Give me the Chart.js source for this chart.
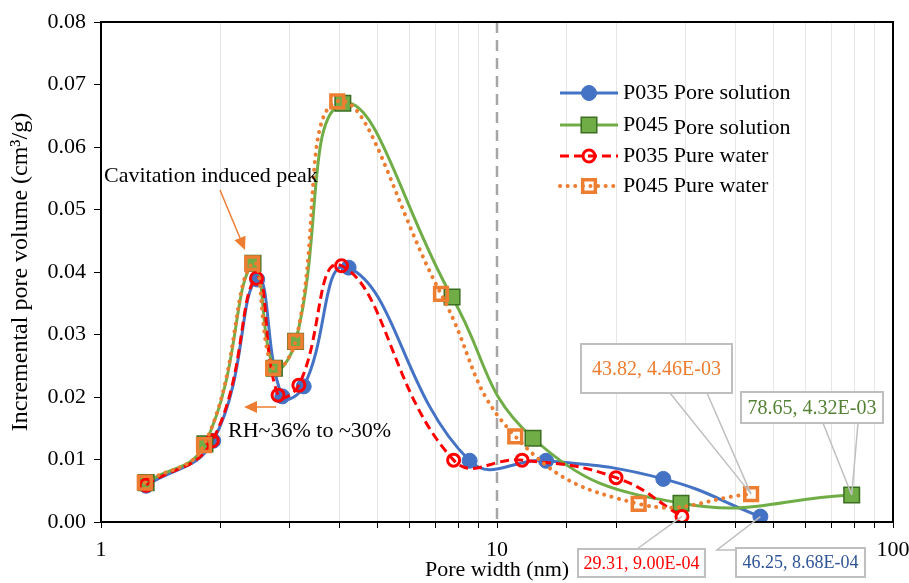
<!DOCTYPE html>
<html><head><meta charset="utf-8">
<script src="https://cdn.jsdelivr.net/npm/chart.js@4"></script>
<style>html,body{margin:0;padding:0;background:#fff;}canvas{display:block;}</style>
</head><body>
<canvas id="c" width="909" height="583"></canvas>
<script>
// ---- data (pore width in nm, incremental pore volume in cm3/g) ----
const seriesNames = ['P035 Pore solution', 'P045 Pore solution', 'P035 Pure water', 'P045 Pure water'];
const p035PoreSolX = [1.30, 1.92, 2.48, 2.87, 3.25, 4.22, 8.53, 13.3, 26.3, 46.25];
const p035PoreSolY = [0.0058, 0.0130, 0.0388, 0.0201, 0.0217, 0.0407, 0.0098, 0.0098, 0.0069, 0.000868];
const p045PoreSolX = [1.30, 1.83, 2.42, 2.74, 3.10, 4.08, 7.70, 12.33, 29.15, 78.65];
const p045PoreSolY = [0.0063, 0.0125, 0.0414, 0.0246, 0.0289, 0.0670, 0.0360, 0.0134, 0.0030, 0.00432];
const p035PureWaterX = [1.30, 1.91, 2.47, 2.80, 3.16, 4.05, 7.77, 11.57, 19.98, 29.31];
const p035PureWaterY = [0.0059, 0.0130, 0.0390, 0.0203, 0.0219, 0.0410, 0.0099, 0.0099, 0.0071, 0.0009];
const p045PureWaterX = [1.29, 1.82, 2.41, 2.72, 3.10, 3.95, 7.22, 11.12, 22.79, 43.82];
const p045PureWaterY = [0.0063, 0.0123, 0.0414, 0.0246, 0.0289, 0.0673, 0.0365, 0.0137, 0.0029, 0.00446];
const xTickLabels = [1, 10, 100];
const yMin = 0, yMax = 0.08, yStep = 0.01;
const refLineX = 10;
const calloutLabels = [
  {series: 3, index: 9, text: '43.82, 4.46E-03'},
  {series: 1, index: 9, text: '78.65, 4.32E-03'},
  {series: 2, index: 9, text: '29.31, 9.00E-04'},
  {series: 0, index: 9, text: '46.25, 8.68E-04'}
];
const noteCavitation = 'Cavitation induced peak';
const noteRH = 'RH~36% to ~30%';
const xTitle = 'Pore width (nm)';
const yTitle = 'Incremental pore volume (cm\u00B3/g)';

// ---- styles ----
const FONT = '"Liberation Serif", "Times New Roman", serif';
const BLUE = '#4472C4', GREEN = '#70AD47', RED = '#FF0000', ORANGE = '#ED7D31';
const styles = [
  {color: BLUE, lw: 3, dash: [], cap: 'butt', pstyle: 'circle', pr: 7.5, pfill: BLUE, pborder: BLUE, pbw: 1, order: 4},
  {color: GREEN, lw: 3, dash: [], cap: 'butt', pstyle: 'rect', pr: 11, pfill: GREEN, pborder: '#3B6E22', pbw: 1.5, order: 3},
  {color: RED, lw: 3, dash: [9, 5], cap: 'butt', pstyle: 'circle', pr: 6, pfill: 'rgba(0,0,0,0)', pborder: RED, pbw: 3, order: 2},
  {color: ORANGE, lw: 4, dash: [0.1, 7.5], cap: 'round', pstyle: 'rect', pr: 9, pfill: 'rgba(0,0,0,0)', pborder: ORANGE, pbw: 3.5, order: 1}
];
const xs = [p035PoreSolX, p045PoreSolX, p035PureWaterX, p045PureWaterX];
const ys = [p035PoreSolY, p045PoreSolY, p035PureWaterY, p045PureWaterY];

function pts(a, b) { return a.map((x, i) => ({x: x, y: b[i]})); }

const datasets = seriesNames.map((n, i) => ({
  label: n,
  data: pts(xs[i], ys[i]),
  showLine: true,
  borderColor: styles[i].color,
  borderWidth: styles[i].lw,
  borderDash: styles[i].dash,
  borderCapStyle: styles[i].cap,
  tension: 0.45,
  fill: false,
  pointStyle: styles[i].pstyle,
  pointRadius: styles[i].pr,
  pointHoverRadius: styles[i].pr,
  pointBackgroundColor: styles[i].pfill,
  pointBorderColor: styles[i].pborder,
  pointBorderWidth: styles[i].pbw,
  order: styles[i].order
}));

function drawMarker(ctx, i, x, y) {
  const s = styles[i];
  ctx.save();
  ctx.setLineDash([]);
  ctx.lineWidth = s.pbw;
  ctx.strokeStyle = s.pborder;
  ctx.fillStyle = s.pfill;
  ctx.beginPath();
  if (s.pstyle === 'circle') {
    ctx.arc(x, y, s.pr, 0, Math.PI * 2);
  } else {
    const h = s.pr * Math.SQRT1_2;
    ctx.rect(x - h, y - h, 2 * h, 2 * h);
  }
  ctx.fill();
  ctx.stroke();
  ctx.restore();
}

function arrow(ctx, x1, y1, x2, y2, color) {
  const ang = Math.atan2(y2 - y1, x2 - x1);
  const L = 13, W = 6;
  const bx = x2 - L * Math.cos(ang), by = y2 - L * Math.sin(ang);
  ctx.save();
  ctx.strokeStyle = color; ctx.fillStyle = color; ctx.lineWidth = 1.5;
  ctx.beginPath(); ctx.moveTo(x1, y1); ctx.lineTo(bx, by); ctx.stroke();
  ctx.beginPath();
  ctx.moveTo(x2, y2);
  ctx.lineTo(bx + W * Math.sin(ang), by - W * Math.cos(ang));
  ctx.lineTo(bx - W * Math.sin(ang), by + W * Math.cos(ang));
  ctx.closePath(); ctx.fill();
  ctx.restore();
}

const calloutLayout = [
  {box: [581, 344, 151, 49], base: [[670, 393], [707, 393]], color: '#ED7D31', size: 20},
  {box: [741, 392, 142, 31], base: [[823, 423], [858, 423]], color: '#548235', size: 20},
  {box: [578, 549, 127, 28], base: [[637, 549]], color: '#FF0000', size: 18},
  {box: [736, 548, 129, 29], base: [[717, 550], [736, 550]], color: '#2F5597', size: 18, poly: true}
];

const overlay = {
  id: 'overlay',
  beforeDatasetsDraw(chart) {
    const {ctx, chartArea: a, scales: {x}} = chart;
    const px = x.getPixelForValue(refLineX);
    ctx.save();
    ctx.strokeStyle = '#A6A6A6'; ctx.lineWidth = 2.5; ctx.setLineDash([11, 7]);
    ctx.beginPath(); ctx.moveTo(px, a.top); ctx.lineTo(px, a.bottom); ctx.stroke();
    ctx.restore();
  },
  afterDraw(chart) {
    const {ctx, chartArea: a, scales: {x, y}} = chart;
    ctx.save();
    // plot frame
    ctx.strokeStyle = '#000'; ctx.lineWidth = 2;
    ctx.strokeRect(a.left, a.top, a.right - a.left, a.bottom - a.top);

    // axis titles
    ctx.fillStyle = '#000';
    ctx.font = '22px ' + FONT;
    ctx.textAlign = 'center'; ctx.textBaseline = 'middle';
    ctx.fillText(xTitle, (a.left + a.right) / 2, 570);
    ctx.save();
    ctx.font = '24px ' + FONT;
    ctx.translate(21, (a.top + a.bottom) / 2);
    ctx.rotate(-Math.PI / 2);
    ctx.fillText(yTitle, 0, 0);
    ctx.restore();

    // notes
    ctx.textAlign = 'left';
    ctx.fillText(noteCavitation, 104, 176);
    arrow(ctx, 220, 190, 245, 250, ORANGE);
    ctx.fillText(noteRH, 228, 431);
    arrow(ctx, 276, 407, 244, 407, ORANGE);

    // callouts
    calloutLabels.forEach((c, k) => {
      const L = calloutLayout[k];
      const tx = x.getPixelForValue(xs[c.series][c.index]);
      const ty = y.getPixelForValue(ys[c.series][c.index]);
      ctx.save();
      ctx.strokeStyle = '#BFBFBF'; ctx.lineWidth = 1.5; ctx.setLineDash([]);
      ctx.beginPath();
      if (L.poly) {
        ctx.moveTo(L.base[1][0], L.base[1][1]);
        ctx.lineTo(L.base[0][0], L.base[0][1]);
        ctx.lineTo(tx, ty);
      } else {
        L.base.forEach(b => { ctx.moveTo(b[0], b[1]); ctx.lineTo(tx, ty); });
      }
      ctx.stroke();
      const [bx, by, bw, bh] = L.box;
      ctx.fillStyle = '#fff';
      ctx.fillRect(bx, by, bw, bh);
      ctx.lineWidth = 2;
      ctx.strokeRect(bx, by, bw, bh);
      ctx.fillStyle = L.color;
      ctx.font = L.size + 'px ' + FONT;
      ctx.textAlign = 'center'; ctx.textBaseline = 'middle';
      ctx.fillText(c.text, bx + bw / 2, by + bh / 2 + 1);
      ctx.restore();
    });

    // legend
    const rows = [93, 125, 156, 186];
    seriesNames.forEach((n, i) => {
      const yy = rows[i];
      const s = styles[i];
      ctx.save();
      ctx.strokeStyle = s.color; ctx.lineWidth = s.lw;
      ctx.setLineDash(s.dash); ctx.lineCap = s.cap;
      ctx.beginPath(); ctx.moveTo(560, yy); ctx.lineTo(618, yy); ctx.stroke();
      ctx.restore();
      drawMarker(ctx, i, 589, yy);
      ctx.fillStyle = '#000';
      ctx.font = '22px ' + FONT;
      ctx.textAlign = 'left'; ctx.textBaseline = 'middle';
      if (i === 1) {
        const parts = n.split(' ');
        const first = parts.shift();
        ctx.fillText(first, 623, yy);
        const w = ctx.measureText(first + ' ').width;
        ctx.fillText(parts.join(' '), 623 + w, yy + 3);
      } else {
        ctx.fillText(n, 623, yy);
      }
    });
    ctx.restore();
  }
};

new Chart(document.getElementById('c'), {
  type: 'scatter',
  data: {datasets: datasets},
  options: {
    responsive: false,
    animation: false,
    devicePixelRatio: 1,
    layout: {padding: {top: 22, right: 16, left: 0, bottom: 0}},
    plugins: {legend: {display: false}, tooltip: {enabled: false}},
    scales: {
      x: {
        type: 'logarithmic',
        min: 1, max: 100,
        afterFit(s) { s.height = 61; s.paddingLeft = 0; s.paddingRight = 0; },
        border: {display: true, color: '#000', width: 2},
        grid: {
          color: (c) => (c.tick && xTickLabels.includes(c.tick.value)) ? 'rgba(0,0,0,0)' : '#E6E6E6',
          lineWidth: 1,
          tickColor: '#000',
          tickLength: 6,
          drawTicks: true
        },
        ticks: {
          autoSkip: false,
          maxRotation: 0,
          padding: 9,
          color: '#000',
          font: {family: FONT, size: 22},
          callback: (v) => xTickLabels.includes(v) ? String(v) : ''
        }
      },
      y: {
        min: yMin, max: yMax,
        afterFit(s) { s.width = 101; s.paddingTop = 0; s.paddingBottom = 0; },
        border: {display: true, color: '#000', width: 2},
        grid: {color: 'rgba(0,0,0,0)', tickColor: '#000', tickLength: 7, drawTicks: true},
        ticks: {
          stepSize: yStep,
          padding: 8,
          color: '#000',
          font: {family: FONT, size: 22},
          callback: (v) => Number(v).toFixed(2)
        }
      }
    }
  },
  plugins: [overlay]
});
</script>
</body></html>
